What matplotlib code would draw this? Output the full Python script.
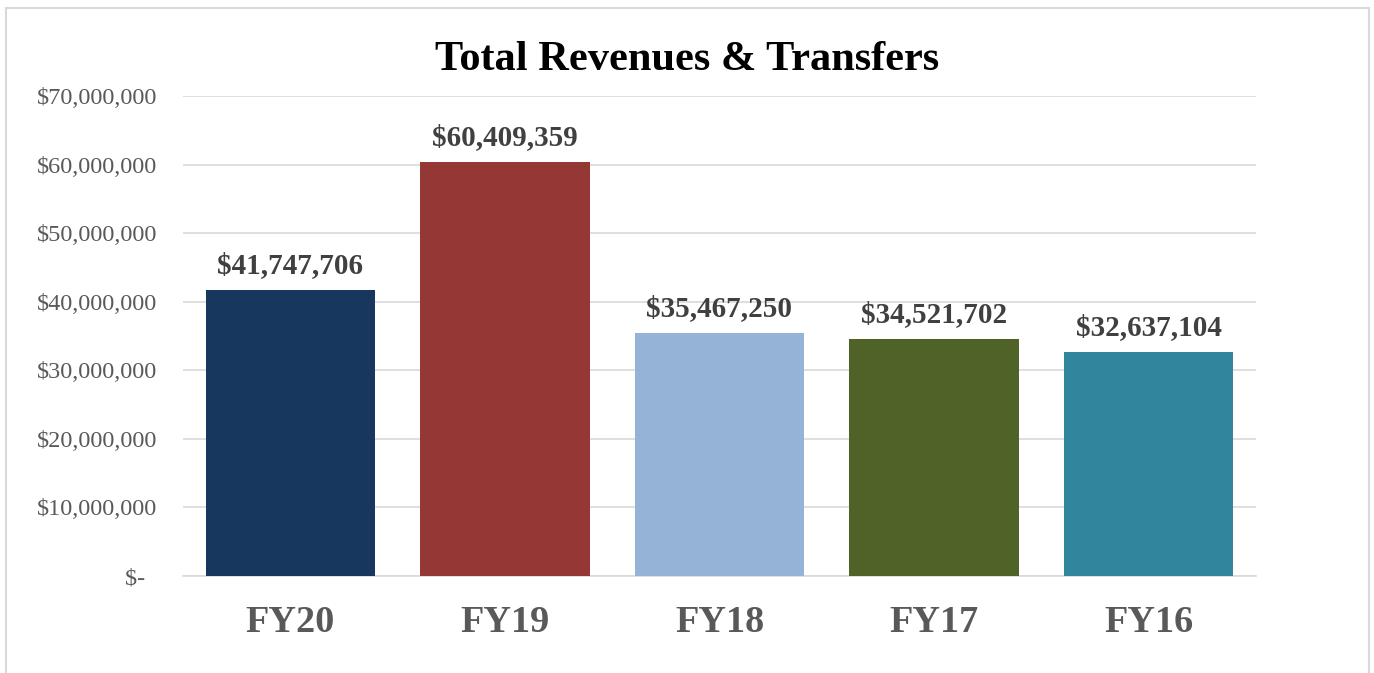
import matplotlib.pyplot as plt
from matplotlib.patches import Rectangle
from matplotlib.ticker import FuncFormatter

years = ['FY20', 'FY19', 'FY18', 'FY17', 'FY16']
revenues = [41747706, 60409359, 35467250, 34521702, 32637104]
colors = ['#17375E', '#953735', '#95B3D7', '#4F6228', '#31859C']

plt.rcParams['font.family'] = ['Liberation Serif', 'DejaVu Serif']

fig = plt.figure(figsize=(13.74, 6.73), dpi=100)
ax = fig.add_axes([0.1332, 0.1441, 0.7809, 0.7132])

# chart frame
fig.patches.append(Rectangle((6 / 1374, -0.05), (1369 - 6) / 1374, 1.05 - 8 / 673,
                             transform=fig.transFigure, fill=False,
                             edgecolor='#D9D9D9', linewidth=1.5))

x = range(len(years))
bars = ax.bar(x, revenues, width=0.79, color=colors, zorder=3)

for b, v in zip(bars, revenues):
    ax.annotate('${:,}'.format(v), (b.get_x() + b.get_width() / 2, v),
                xytext=(0, 12.2), textcoords='offset points', ha='center', va='baseline',
                fontsize=21, fontweight='bold', color='#404040')

ax.set_xlim(-0.5, len(years) - 0.5)
ax.set_ylim(0, 70000000)
ax.set_yticks(range(0, 70000001, 10000000))


def money(v, pos):
    if v == 0:
        return '$-  '
    return '${:,.0f}'.format(v)


ax.yaxis.set_major_formatter(FuncFormatter(money))
ax.set_xticks(list(x))
ax.set_xticklabels(years, fontsize=27.5, fontweight='bold', color='#595959')
ax.tick_params(axis='y', length=0, pad=18.7, labelsize=17.5, labelcolor='#595959')
ax.tick_params(axis='x', length=0, pad=21)

ax.grid(axis='y', color='#D9D9D9', linewidth=1.2, zorder=0)
for s in ['top', 'right', 'left']:
    ax.spines[s].set_visible(False)
ax.spines['bottom'].set_color('#D9D9D9')
ax.spines['bottom'].set_linewidth(1.2)

fig.text(0.5, 0.896, 'Total Revenues & Transfers', ha='center', va='baseline',
         fontsize=30.5, fontweight='bold', color='black')

fig.savefig('out.png', dpi=100)
